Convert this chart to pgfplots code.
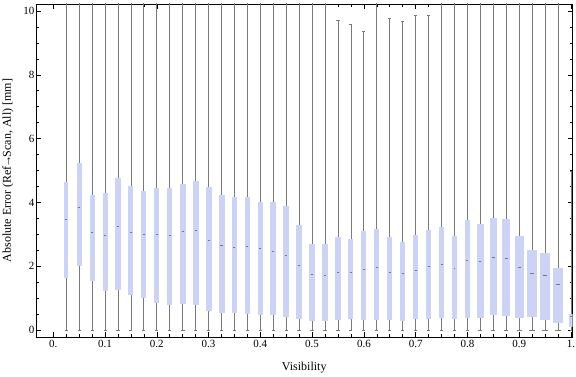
\documentclass[border=0pt]{standalone}
\usepackage{fontspec}
\setmainfont{Liberation Serif}
\usepackage{pgfplots}
\pgfplotsset{compat=1.18}
\usepgfplotslibrary{statistics}
\definecolor{boxc}{RGB}{204,211,245}
\definecolor{whc}{RGB}{122,122,122}
\definecolor{medc}{RGB}{118,118,132}
% position, box width, lower whisker, lower quartile, median, upper quartile, upper whisker
\newcommand{\bx}[7]{\addplot[boxplot prepared={draw position=#1, box extend=#2, lower whisker=#3, lower quartile=#4, median=#5, upper quartile=#6, upper whisker=#7}] coordinates {};}
\begin{document}
\begin{tikzpicture}
\begin{axis}[name=ax, at={(0,0)}, anchor=south west,
  scale only axis, width=536.5pt, height=333pt,
  xmin=-0.0334, xmax=1.003, ymin=-0.22, ymax=10.22,
  xtick={0,0.1,0.2,0.3,0.4,0.5,0.6,0.7,0.8,0.9,1},
  xticklabels={0.,0.1,0.2,0.3,0.4,0.5,0.6,0.7,0.8,0.9,1.},
  ytick={0,2,4,6,8,10},
  yticklabels={0,2,4,6,8,10},
  minor x tick num=3, minor y tick num=3,
  tick align=inside, tick pos=both,
  xticklabel pos=left, yticklabel pos=left,
  major tick length=5pt, minor tick length=3pt,
  tick style={black, line width=0.6pt},
  axis line style={black, line width=0.7pt},
  tick label style={font=\fontsize{11}{13}\selectfont},
  yticklabel style={inner sep=1.5pt},
  label style={font=\fontsize{12}{14}\selectfont},
  xlabel={Visibility},
  ylabel={Absolute Error (Ref\kern-0.12em→\kern-0.12em Scan, All) [mm]},
  xlabel style={at={(axis description cs:0.5,-0.093)}, anchor=center},
  ylabel style={at={(axis description cs:-0.0522,0.5)}, anchor=center},
  boxplot/draw direction=y,
  boxplot/every box/.style={fill=boxc, draw=none},
  boxplot/every whisker/.style={draw=whc, line width=0.85pt},
  boxplot/every median/.style={draw=medc, line width=0.8pt},
  boxplot/whisker extend=\pgfkeysvalueof{/pgfplots/boxplot/box extend}*0.6,
  boxplot/draw/median/.code={%
    \draw[/pgfplots/boxplot/every median/.try]
      (boxplot box cs:\pgfplotsboxplotvalue{median},0.32) --
      (boxplot box cs:\pgfplotsboxplotvalue{median},0.68);
  },
]
\bx{0.025}{0.0087}{0}{1.64}{3.46}{4.64}{11}
\bx{0.05}{0.0097}{0}{2.02}{3.83}{5.24}{11}
\bx{0.075}{0.0097}{0}{1.55}{3.06}{4.23}{11}
\bx{0.1}{0.0097}{0}{1.22}{2.98}{4.29}{11}
\bx{0.125}{0.0097}{0}{1.26}{3.26}{4.76}{11}
\bx{0.15}{0.0097}{0}{1.10}{3.07}{4.51}{11}
\bx{0.175}{0.0097}{0}{1.01}{3.00}{4.36}{11}
\bx{0.2}{0.0097}{0}{0.85}{3.01}{4.45}{11}
\bx{0.225}{0.0097}{0}{0.78}{2.97}{4.45}{11}
\bx{0.25}{0.0116}{0}{0.82}{3.08}{4.58}{11}
\bx{0.275}{0.0116}{0}{0.78}{3.11}{4.67}{11}
\bx{0.3}{0.0116}{0}{0.60}{2.82}{4.48}{11}
\bx{0.325}{0.0116}{0}{0.53}{2.64}{4.23}{11}
\bx{0.35}{0.0106}{0}{0.53}{2.59}{4.16}{11}
\bx{0.375}{0.0110}{0}{0.50}{2.61}{4.17}{11}
\bx{0.4}{0.0110}{0}{0.48}{2.55}{4.01}{11}
\bx{0.425}{0.0110}{0}{0.47}{2.47}{4.01}{11}
\bx{0.45}{0.0110}{0}{0.41}{2.35}{3.89}{11}
\bx{0.475}{0.0110}{0}{0.34}{2.04}{3.29}{11}
\bx{0.5}{0.0110}{0}{0.28}{1.75}{2.70}{11}
\bx{0.525}{0.0102}{0}{0.28}{1.72}{2.70}{11}
\bx{0.55}{0.0110}{0}{0.32}{1.81}{2.92}{9.69}
\bx{0.575}{0.0097}{0}{0.34}{1.81}{2.85}{9.58}
\bx{0.6}{0.0097}{0}{0.31}{1.90}{3.10}{9.36}
\bx{0.625}{0.0097}{0}{0.31}{1.95}{3.17}{11}
\bx{0.65}{0.0091}{0}{0.30}{1.80}{2.92}{9.77}
\bx{0.675}{0.0091}{0}{0.28}{1.76}{2.76}{9.68}
\bx{0.7}{0.0097}{0}{0.34}{1.88}{2.98}{9.86}
\bx{0.725}{0.0110}{0}{0.34}{1.98}{3.13}{9.86}
\bx{0.75}{0.0110}{0}{0.37}{2.05}{3.23}{11}
\bx{0.775}{0.0102}{0}{0.34}{1.93}{2.95}{11}
\bx{0.8}{0.0110}{0}{0.39}{2.18}{3.45}{11}
\bx{0.825}{0.0122}{0}{0.37}{2.14}{3.32}{11}
\bx{0.85}{0.0135}{0}{0.48}{2.26}{3.52}{11}
\bx{0.875}{0.0145}{0}{0.45}{2.23}{3.48}{11}
\bx{0.9}{0.0168}{0}{0.39}{1.97}{2.95}{11}
\bx{0.925}{0.0187}{0}{0.42}{1.78}{2.52}{11}
\bx{0.95}{0.0207}{0}{0.32}{1.71}{2.41}{11}
\bx{0.975}{0.0193}{0}{0.23}{1.43}{1.95}{11}
\bx{1.0}{0.0077}{0}{0.10}{0.42}{0.51}{4.96}
\end{axis}
\pgfresetboundingbox
\path[use as bounding box] ([xshift=-36pt,yshift=-40pt]ax.south west) rectangle ([xshift=3.5pt,yshift=4pt]ax.north east);
\end{tikzpicture}
\end{document}
